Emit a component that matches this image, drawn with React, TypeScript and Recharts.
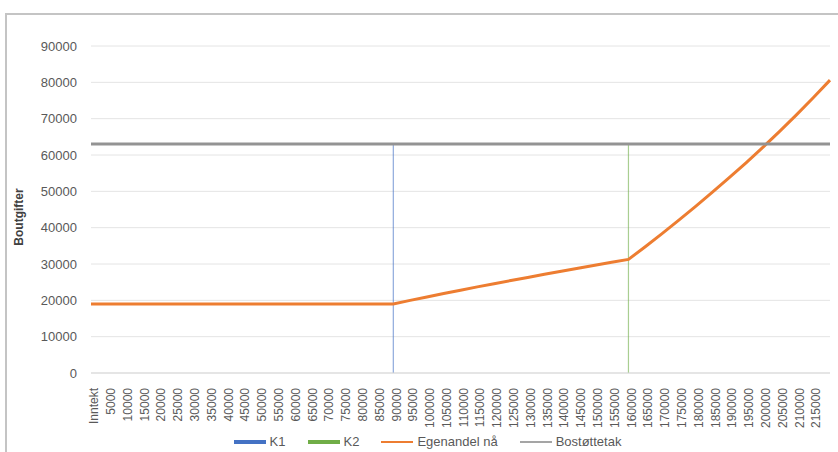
import React from 'react';
import { LineChart, Line, XAxis, YAxis, CartesianGrid, ReferenceLine, Legend } from 'recharts';

const categories = [
  'Inntekt', '5000', '10000', '15000', '20000', '25000', '30000', '35000', '40000', '45000',
  '50000', '55000', '60000', '65000', '70000', '75000', '80000', '85000', '90000', '95000',
  '100000', '105000', '110000', '115000', '120000', '125000', '130000', '135000', '140000', '145000',
  '150000', '155000', '160000', '165000', '170000', '175000', '180000', '185000', '190000', '195000',
  '200000', '205000', '210000', '215000', '',
];

const egenandel = [
  19000, 19000, 19000, 19000, 19000, 19000, 19000, 19000, 19000, 19000,
  19000, 19000, 19000, 19000, 19000, 19000, 19000, 19000, 19000, 19980,
  20940, 21880, 22800, 23700, 24580, 25450, 26310, 27160, 28000, 28830,
  29650, 30460, 31260, 34760, 38360, 42060, 45860, 49760, 53760, 57860,
  62110, 66510, 71060, 75760, 80610,
];

const bostottetak = [
  63000, 63000, 63000, 63000, 63000, 63000, 63000, 63000, 63000, 63000,
  63000, 63000, 63000, 63000, 63000, 63000, 63000, 63000, 63000, 63000,
  63000, 63000, 63000, 63000, 63000, 63000, 63000, 63000, 63000, 63000,
  63000, 63000, 63000, 63000, 63000, 63000, 63000, 63000, 63000, 63000,
  63000, 63000, 63000, 63000, 63000,
];

const k1Income = '90000';
const k2Income = '160000';
const kHeight = 63000;

const yTicks = [0, 10000, 20000, 30000, 40000, 50000, 60000, 70000, 80000, 90000];

const legendItems = [
  { name: 'K1', color: '#4472C4', thick: true },
  { name: 'K2', color: '#70AD47', thick: true },
  { name: 'Egenandel nå', color: '#ED7D31', thick: false },
  { name: 'Bostøttetak', color: '#A5A5A5', thick: false },
];

const data = categories.map((c, i) => ({
  inntekt: c,
  egenandel: egenandel[i],
  bostottetak: bostottetak[i],
}));

const FONT = '"Liberation Sans", Arial, sans-serif';

const XTick = (props: any) => {
  const { x, y, payload } = props;
  return (
    <g transform={`translate(${x + 3},${y + 7}) rotate(-90)`}>
      <text x={0} y={0} dy="0.35em" textAnchor="end" fill="#595959" fontSize={12} fontFamily={FONT}>
        {payload.value}
      </text>
    </g>
  );
};

const renderLegend = () => (
  <div
    style={{
      display: 'flex',
      justifyContent: 'center',
      alignItems: 'center',
      gap: 22,
      paddingLeft: 18,
      paddingTop: 4,
      fontFamily: FONT,
      fontSize: 13,
      color: '#595959',
    }}
  >
    {legendItems.map((it) => (
      <div key={it.name} style={{ display: 'flex', alignItems: 'center', gap: 4 }}>
        <div style={{ width: 32, height: it.thick ? 4 : 2, background: it.color }} />
        <span>{it.name}</span>
      </div>
    ))}
  </div>
);

const YLabel = () => (
  <text
    transform="translate(12,202) rotate(-90)"
    textAnchor="middle"
    dy="0.35em"
    fontFamily={FONT}
    fontSize={12}
    fontWeight="bold"
    fill="#404040"
  >
    Boutgifter
  </text>
);

export default function App() {
  return (
    <div
      style={{
        position: 'absolute',
        left: 5,
        top: 13,
        width: 833,
        height: 439,
        borderTop: '2px solid #c4c4c4',
        borderLeft: '2px solid #c4c4c4',
        background: '#ffffff',
        boxSizing: 'border-box',
      }}
    >
      <LineChart
        width={831}
        height={437}
        data={data}
        margin={{ top: 31, right: 8, left: 0, bottom: 0 }}
        style={{ fontFamily: FONT }}
      >
        <CartesianGrid vertical={false} stroke="#e4e4e4" />
        <XAxis
          dataKey="inntekt"
          interval={0}
          tick={<XTick />}
          tickLine={false}
          tickSize={6}
          tickMargin={2}
          axisLine={{ stroke: '#d9d9d9' }}
          height={57}
        />
        <YAxis
          width={84}
          domain={[0, 90000]}
          ticks={yTicks}
          axisLine={false}
          tickLine={false}
          tickMargin={8}
          tick={{ fill: '#595959', fontSize: 13, fontFamily: FONT }}
          label={<YLabel />}
        />
        <ReferenceLine
          segment={[{ x: k1Income, y: 0 }, { x: k1Income, y: kHeight }]}
          stroke="#4472C4"
          strokeOpacity={0.6}
          strokeWidth={1.2}
        />
        <ReferenceLine
          segment={[{ x: k2Income, y: 0 }, { x: k2Income, y: kHeight }]}
          stroke="#70AD47"
          strokeOpacity={0.6}
          strokeWidth={1.2}
        />
        <Line
          type="linear"
          dataKey="egenandel"
          name="Egenandel nå"
          stroke="#ED7D31"
          strokeWidth={3}
          dot={false}
          isAnimationActive={false}
        />
        <Line
          type="linear"
          dataKey="bostottetak"
          name="Bostøttetak"
          stroke="#939393"
          strokeWidth={3}
          dot={false}
          isAnimationActive={false}
        />
        <Legend verticalAlign="bottom" height={22} content={renderLegend} />
      </LineChart>
    </div>
  );
}
